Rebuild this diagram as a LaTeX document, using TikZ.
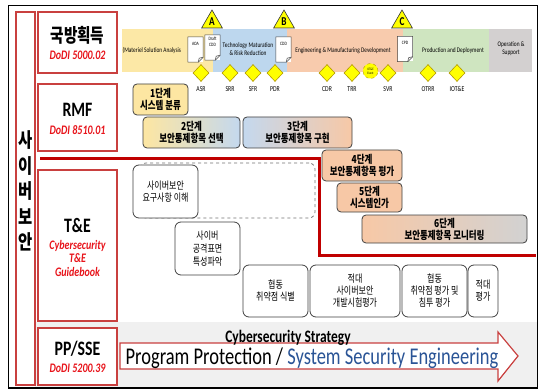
\documentclass[tikz,border=0pt]{standalone}
\usepackage{fontspec}
\setmainfont{Carlito}[FakeStretch=0.77]
\newfontfamily\kr{Noto Sans CJK KR}[FakeStretch=0.77]
\usetikzlibrary{shapes.geometric}
\definecolor{boxred}{HTML}{C9403F}
\definecolor{dodired}{HTML}{E8141B}
\definecolor{linered}{HTML}{C00000}
\definecolor{phY}{HTML}{FCE8A6}
\definecolor{phB}{HTML}{BDD7EE}
\definecolor{phO}{HTML}{F8CBAD}
\definecolor{phG}{HTML}{CFE5C0}
\definecolor{phS}{HTML}{D3D0D0}
\definecolor{msY}{HTML}{FFFF00}
\definecolor{msBorder}{HTML}{B59B00}
\definecolor{stepY}{HTML}{FDE6A2}
\definecolor{stepO}{HTML}{F7C8A6}
\definecolor{stepB}{HTML}{C4D8EE}
\definecolor{stepG}{HTML}{D6E6C6}
\definecolor{stepS}{HTML}{D2D2D2}
\definecolor{sseblue}{HTML}{2A5496}
\definecolor{stripgray}{HTML}{F0F0F0}
\definecolor{edgegray}{HTML}{404040}
\begin{document}
\begin{tikzpicture}[x=1pt,y=-1pt,
  catbox/.style={draw=boxred, line width=1.1pt, fill=white, inner sep=0},
  titlekr/.style={font=\kr\bfseries\fontsize{19}{21}\selectfont, inner sep=0},
  titleen/.style={font=\bfseries\fontsize{20.5}{22}\selectfont, inner sep=0},
  dodi/.style={font=\bfseries\itshape\fontsize{13}{14}\selectfont, text=dodired, inner sep=0, align=center},
  phase/.style={draw=none, inner sep=0, minimum height=43pt},
  phtext/.style={font=\fontsize{7}{8}\selectfont, inner sep=0, align=center},
  docnode/.style={fill=white, inner sep=0, minimum width=15pt, minimum height=25pt, font=\fontsize{5}{5.5}\selectfont, align=center},
  docline/.style={draw=black!70, line width=0.5pt},
  mstri/.style={regular polygon, regular polygon sides=3, minimum size=24pt, inner sep=0, draw=black!80, fill=msY, line width=0.6pt, font=\bfseries\fontsize{12}{12}\selectfont},
  msdia/.style={diamond, draw=msBorder, fill=msY, minimum width=16pt, minimum height=17pt, inner sep=0, line width=0.6pt},
  mslabel/.style={font=\fontsize{7.5}{8}\selectfont, inner sep=0},
  rmfstep/.style={draw=edgegray, line width=0.8pt, rounded corners=4pt, inner sep=0, align=center, font=\kr\bfseries\fontsize{11}{12}\selectfont},
  tebox/.style={draw=edgegray, line width=0.8pt, rounded corners=6pt, fill=white, inner sep=0, align=center, font=\kr\fontsize{10.4}{12}\selectfont},
]
\useasboundingbox (0,0) rectangle (540,390);
\fill[white] (0,0) rectangle (540,390);
\fill[stripgray] (35,322) rectangle (537,387);
\draw[line width=1.5pt] (8.5,5.5) rectangle (537.5,388);

% left column
\node[catbox, minimum width=19pt, minimum height=373pt] (col) at (25.5,198.5) {};
\node[font=\kr\bfseries\fontsize{20}{25.5}\selectfont, align=center, inner sep=0] (coltext) at (25.5,191) {사\\이\\버\\보\\안};

% category boxes
\node[catbox, minimum width=79pt, minimum height=61pt] (acq) at (77.5,42.5) {};
\node[titlekr] (acqT) at (77.5,35) {국방획득};
\node[dodi] (acqD) at (77.5,55) {DoDI 5000.02};

\node[catbox, minimum width=79pt, minimum height=67pt] (rmf) at (77.5,117.5) {};
\node[titleen] (rmfT) at (77.5,110) {RMF};
\node[dodi] (rmfD) at (77.5,130) {DoDI 8510.01};

\node[catbox, minimum width=79pt, minimum height=151pt] (te) at (77.5,245.5) {};
\node[titleen] (teT) at (77.5,225) {T\&E};
\node[dodi, font=\bfseries\itshape\fontsize{13}{13.5}\selectfont] (teD) at (77.5,258) {Cybersecurity\\T\&E\\Guidebook};

\node[catbox, minimum width=79pt, minimum height=57pt] (pp) at (77.5,356.5) {};
\node[titleen] (ppT) at (77.5,349) {PP/SSE};
\node[dodi] (ppD) at (77.5,368) {DoDI 5200.39};

% acquisition phases
\node[phase, fill=phY, minimum width=91pt] (ph1) at (167.5,50.5) {};
\node[phase, fill=phB, minimum width=74pt] (ph2) at (250,50.5) {};
\node[phase, fill=phO, minimum width=116pt] (ph3) at (345,50.5) {};
\node[phase, fill=phG, minimum width=86pt] (ph4) at (446,50.5) {};
\node[phase, fill=phS, minimum width=43pt] (ph5) at (510.5,50.5) {};
\node[phtext, anchor=west] (ph1t) at (122.5,51) {(Materiel Solution Analysis};
\node[phtext] (ph2t) at (248,49) {Technology Maturation\\\& Risk Reduction};
\node[phtext] (ph3t) at (343,51) {Engineering \& Manufacturing Development};
\node[phtext] (ph4t) at (453,51) {Production and Deployment};
\node[phtext] (ph5t) at (511,49) {Operation \&\\Support};

% documents
\foreach \n/\x/\y/\t in {aoa/195.5/49.5/AOA, dcdd/212.5/47.5/{Draft\\CDD}, cdd/283.5/49.5/CDD, cpd/405/49/CPD}{
  \node[docnode] (\n) at (\x,\y) {\t\\[6pt]};
  \draw[docline] (\n.north west) -- (\n.north east) -- ([yshift=5pt]\n.south east) -- ([xshift=-5pt]\n.south east) -- (\n.south west) -- cycle;
  \draw[docline] ([yshift=5pt]\n.south east) -- ([xshift=-4pt,yshift=4pt]\n.south east) -- ([xshift=-5pt]\n.south east);
}

% milestones
\node[mstri] (msA) at (212,22) {A};
\node[mstri] (msB) at (284,22) {B};
\node[mstri] (msC) at (402,22) {C};

% reviews
\foreach \n/\x/\t in {asr/201/ASR, srr/230/SRR, sfr/253/SFR, pdr/275/PDR, cdr/327/CDR, trr/352/TRR, svr/388/SVR, otrr/428/OTRR, iote/457/IOT\&E}{
  \node[msdia] (\n) at (\x,73) {};
  \node[mslabel] (\n L) at (\x,89) {\t};
}
\node[circle, draw=msBorder, dashed, fill=msY, minimum size=15pt, inner sep=0, font=\fontsize{3.5}{4}\selectfont, align=center] (ote) at (370.5,71) {OT\&E\\Event};

% RMF steps
\node[rmfstep, fill=stepY, minimum width=55pt, minimum height=31pt] (s1) at (160.5,99.5) {1단계\\시스템 분류};
\node[rmfstep, left color=stepY, right color=stepB, minimum width=97pt, minimum height=31pt] (s2) at (191.5,132.5) {2단계\\보안통제항목 선택};
\node[rmfstep, left color=stepB, right color=stepO, minimum width=109pt, minimum height=31pt] (s3) at (297.5,132.5) {3단계\\보안통제항목 구현};
\node[rmfstep, fill=stepO, minimum width=80pt, minimum height=31pt] (s4) at (362,165.5) {4단계\\보안통제항목 평가};
\node[rmfstep, fill=stepO, minimum width=65pt, minimum height=29pt] (s5) at (369.5,197.5) {5단계\\시스템인가};
\node[rmfstep, left color=stepO, middle color=stepG, right color=stepS, minimum width=165pt, minimum height=28pt] (s6) at (444.5,229) {6단계\\보안통제항목 모니터링};

% T&E activities
\node[draw=black!55, dashed, line width=0.7pt, rounded corners=6pt, minimum width=175pt, minimum height=55pt, inner sep=0] (dash) at (227.5,190.5) {};
\node[tebox, minimum width=65pt, minimum height=53pt] (t1) at (165.5,191.5) {사이버보안\\요구사항 이해};
\node[tebox, minimum width=65pt, minimum height=53pt, font=\kr\fontsize{10.4}{13}\selectfont] (t2) at (207.5,248.5) {사이버\\공격표면\\특성파악};
\node[tebox, minimum width=65pt, minimum height=52pt] (t3) at (275.5,291) {협동\\취약점 식별};
\node[tebox, minimum width=90pt, minimum height=52pt] (t4) at (355,291) {적대\\사이버보안\\개발시험평가};
\node[tebox, minimum width=65pt, minimum height=52pt] (t5) at (434.5,291) {협동\\취약점 평가 및\\침투 평가};
\node[tebox, minimum width=30pt, minimum height=52pt] (t6) at (483,291) {적대\\평가};

% red divider
\draw[linered, line width=3pt] (40,158.5) -- (319,158.5) -- (319,255) -- (535.5,255);

% PP/SSE arrow
\draw[boxred, line width=1.2pt, fill=white, line join=miter] (120,343) -- (498,343) -- (498,332) -- (518,356) -- (498,381) -- (498,369) -- (120,369) -- cycle;
\node[font=\bfseries\fontsize{17.5}{19}\selectfont, inner sep=0] (strat) at (288,338) {Cybersecurity Strategy};
\node[font=\fontsize{24}{26}\selectfont, inner sep=0] (ppse) at (312,358) {Program Protection / \textcolor{sseblue}{System Security Engineering}};
\end{tikzpicture}
\end{document}
